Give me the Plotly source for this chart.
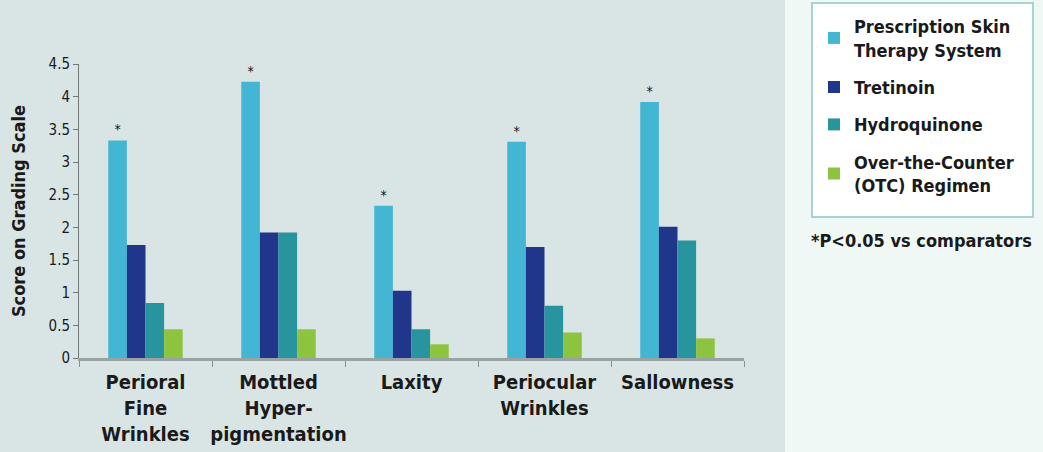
import plotly.graph_objects as go

categories = ["Perioral<br>Fine<br>Wrinkles", "Mottled<br>Hyper-<br>pigmentation", "Laxity",
              "Periocular<br>Wrinkles", "Sallowness"]
series_names = ["Prescription Skin<br>Therapy System", "Tretinoin", "Hydroquinone",
                "Over-the-Counter<br>(OTC) Regimen"]
prescription = [3.33, 4.23, 2.33, 3.31, 3.92]
tretinoin = [1.73, 1.92, 1.03, 1.70, 2.01]
hydroquinone = [0.84, 1.92, 0.44, 0.80, 1.80]
otc = [0.44, 0.44, 0.21, 0.39, 0.30]
significance = ["*", "*", "*", "*", "*"]
y_ticks = [0, 0.5, 1, 1.5, 2, 2.5, 3, 3.5, 4, 4.5]
y_tick_labels = ["0", "0.5", "1", "1.5", "2", "2.5", "3", "3.5", "4", "4.5"]
footnote = "*P<0.05 vs comparators"

colors = ["#42b6d3", "#1f368b", "#28959e", "#8cc43f"]
FONT = "DejaVu Sans Condensed, Liberation Sans Narrow, Arial Narrow, sans-serif"

W, H = 1043, 452
L, R, T, B = 79, W - 744, 64, H - 358

fig = go.Figure()
all_series = [prescription, tretinoin, hydroquinone, otc]
for i, (name, vals) in enumerate(zip(series_names, all_series)):
    kw = {}
    if i == 0:
        kw = dict(text=significance, textposition="outside", cliponaxis=False,
                  textfont=dict(family=FONT, size=14, color="#111111"))
    fig.add_trace(go.Bar(
        x=categories, y=vals, name=name, legendgroup=f"g{i}",
        marker=dict(color=colors[i], line=dict(width=0)),
        **kw,
    ))

def px_to_paper_x(px):
    return (px - L) / (W - L - R)

def px_to_paper_y(py):
    return (H - B - py) / (H - B - T)

fig.update_layout(
    width=W, height=H,
    margin=dict(l=L, r=R, t=T, b=B, autoexpand=False),
    barmode="group", bargap=0.44, bargroupgap=0,
    paper_bgcolor="#d9e5e5", plot_bgcolor="rgba(0,0,0,0)",
    font=dict(family=FONT, color="#1a1a1a"),
    showlegend=True,
    legend=dict(
        x=px_to_paper_x(814), y=px_to_paper_y(8), xanchor="left", yanchor="top",
        xref="paper", yref="paper",
        bgcolor="rgba(0,0,0,0)", borderwidth=0,
        font=dict(family=FONT, size=18, color="#1a1a1a", weight="bold"),
        itemwidth=30, tracegroupgap=11,
        traceorder="grouped",
    ),
    xaxis=dict(
        showline=True, linecolor="#9aa3a3", linewidth=3,
        ticks="outside", tickson="boundaries", ticklen=6, tickcolor="#8a9393",
        tickangle=0, ticklabelstandoff=4,
        tickfont=dict(family=FONT, size=20, color="#1a1a1a", weight="bold"),
        showgrid=False, zeroline=False,
    ),
    yaxis=dict(
        range=[0, 4.5], tickvals=y_ticks, ticktext=y_tick_labels,
        showline=True, linecolor="#6f7777", linewidth=1,
        ticks="outside", ticklen=5, tickcolor="#6f7777",
        tickfont=dict(family=FONT, size=15, color="#1a1a1a"),
        showgrid=False, zeroline=False,
        title=dict(text="Score on Grading Scale", standoff=18,
                   font=dict(family=FONT, size=18, color="#1a1a1a", weight="bold")),
    ),
    shapes=[
        dict(type="rect", xref="paper", yref="paper", layer="below",
             x0=px_to_paper_x(785), x1=px_to_paper_x(W + 5),
             y0=px_to_paper_y(H + 5), y1=px_to_paper_y(-5),
             fillcolor="#eff8f5", line=dict(width=0)),
        dict(type="rect", xref="paper", yref="paper", layer="below",
             x0=px_to_paper_x(812), x1=px_to_paper_x(1033),
             y0=px_to_paper_y(217), y1=px_to_paper_y(3),
             fillcolor="#ffffff", line=dict(color="#a9d3d3", width=2)),
    ],
    annotations=[dict(
        text=footnote, xref="paper", yref="paper",
        x=px_to_paper_x(809), y=px_to_paper_y(240), xanchor="left", yanchor="middle",
        showarrow=False,
        font=dict(family=FONT, size=18, color="#1a1a1a", weight="bold"),
    )],
)

fig.write_html("out.html", config={"displayModeBar": False},
               post_script="document.body.style.margin='0';")
